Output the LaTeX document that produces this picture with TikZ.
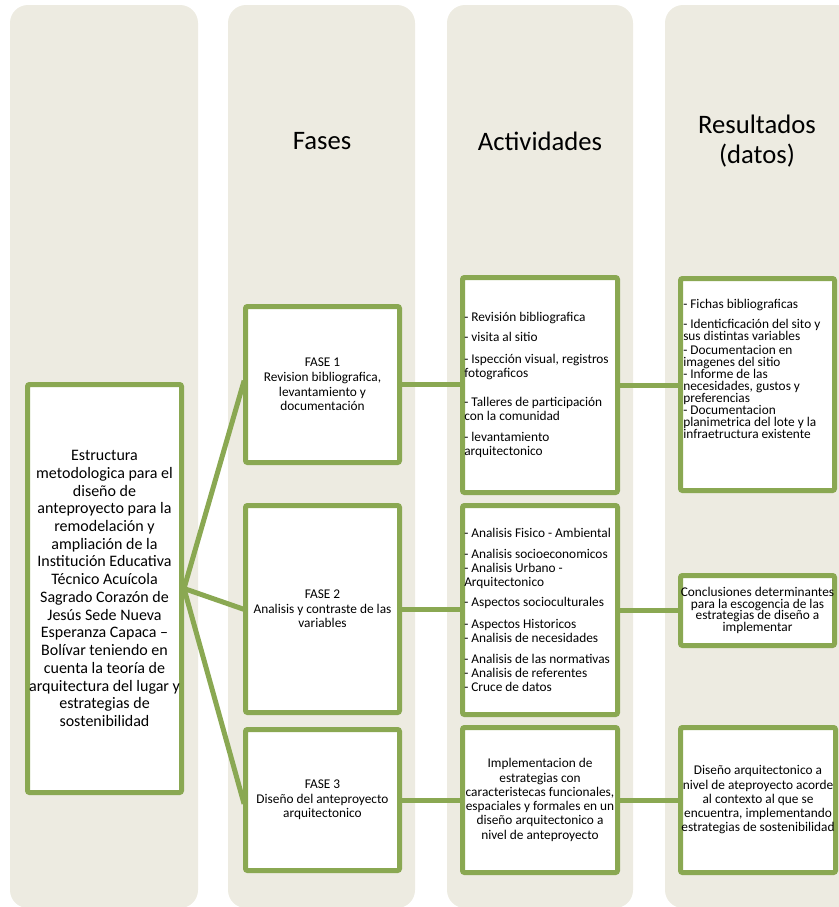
\documentclass[tikz,border=0pt]{standalone}
\usepackage{fontspec}
\setmainfont{Carlito}
\definecolor{colbg}{RGB}{237,235,225}
\definecolor{grn}{RGB}{138,168,82}
\pgfdeclarelayer{back}
\pgfdeclarelayer{mid}
\pgfsetlayers{back,mid,main}
\begin{document}
\lineskiplimit=-20pt
\lineskip=0pt
\begin{tikzpicture}[x=0.75pt,y=-0.75pt,
  colbox/.style={fill=colbg, rounded corners=13.5pt},
  box/.style={draw=grn, line width=3.75pt, fill=white, rounded corners=1.5pt, inner sep=0pt, align=center},
  conn/.style={draw=grn, line width=3.75pt, shorten <=-3pt, shorten >=-3pt},
  head/.style={font=\fontsize{20}{22.5}\selectfont, align=center, inner sep=0pt},
  fase/.style={font=\fontsize{10}{11}\selectfont},
  ctxt/.style={font=\fontsize{10}{10.7}\selectfont},
  lst/.style={font=\fontsize{10}{10.5}\selectfont, align=left, inner sep=0pt, anchor=west},
  rlst/.style={font=\fontsize{10}{9}\selectfont, align=left, inner sep=0pt, anchor=north west}
]
\useasboundingbox (0,0) rectangle (839,907);
\clip (0,0) rectangle (839,907);

% background columns
\begin{pgfonlayer}{back}
\fill[colbox] (10,5) rectangle (198,908);
\fill[colbox] (228,5) rectangle (415,908);
\fill[colbox] (447,5) rectangle (633,908);
\fill[colbox] (665,5) rectangle (880,908);
\end{pgfonlayer}

% headers
\node[head] (hf) at (322,141) {Fases};
\node[head] (ha) at (540,141) {Actividades};
\node[head] (hr) at (757,141) {Resultados\\(datos)};

% main box
\node[box, minimum width=115.5pt, minimum height=306pt,
  font=\fontsize{12}{13.3}\selectfont] (L) at (104.5,588.5)
  {Estructura\\metodologica para el\\diseño de\\anteproyecto para la\\remodelación y\\ampliación de la\\Institución Educativa\\Técnico Acuícola\\Sagrado Corazón de\\Jesús Sede Nueva\\Esperanza Capaca –\\Bolívar teniendo en\\cuenta la teoría de\\arquitectura del lugar y\\estrategias de\\sostenibilidad};

% phases
\node[box, fase, minimum width=115.5pt, minimum height=117pt] (F1) at (322.5,384.5)
  {FASE 1\\Revision bibliografica,\\levantamiento y\\documentación};
\node[box, fase, minimum width=115.5pt, minimum height=155.25pt] (F2) at (322.5,609)
  {FASE 2\\Analisis y contraste de las\\variables};
\node[box, fase, minimum width=115.5pt, minimum height=105.75pt] (F3) at (322.5,800)
  {FASE 3\\Diseño del anteproyecto\\arquitectonico};

% activities
\node[box, minimum width=116.25pt, minimum height=161.25pt] (A1) at (540,385) {};
\node[lst] (A1t) at (464,385)
  {- Revisión bibliografica\\[4.5pt]
   - visita al sitio\\[5.7pt]
   - Ispección visual, registros\\
   fotograficos\\[11.5pt]
   - Talleres de participación\\
   con la comunidad\\[5pt]
   - levantamiento\\
   arquitectonico};
\node[box, minimum width=116.25pt, minimum height=156.75pt] (A2) at (540,610) {};
\node[lst] (A2t) at (464,610)
  {- Analisis Fisico - Ambiental\\[5.25pt]
   - Analisis socioeconomicos\\
   - Analisis Urbano -\\
   Arquitectonico\\[4.5pt]
   - Aspectos socioculturales\\[5.7pt]
   - Aspectos Historicos\\
   - Analisis de necesidades\\[5.25pt]
   - Analisis de las normativas\\
   - Analisis de referentes\\
   - Cruce de datos};
\node[box, ctxt, minimum width=116.25pt, minimum height=108.75pt] (A3) at (540,800)
  {Implementacion de\\estrategias con\\caracteristecas funcionales,\\espaciales y formales en un\\diseño arquitectonico a\\nivel de anteproyecto};

% results
\node[box, minimum width=115.5pt, minimum height=159pt] (R1) at (757.5,384.5) {};
\node[rlst] (R1t) at (683,299)
  {- Fichas bibliograficas\\[5.8pt]
   - Identicficación del sito y\\
   sus distintas variables\\[1.8pt]
   - Documentacion en\\
   imagenes del sitio\\
   - Informe de las\\
   necesidades, gustos y\\
   preferencias\\
   - Documentacion\\
   planimetrica del lote y la\\
   infraetructura existente};
\node[box, font=\fontsize{10}{8.8}\selectfont, minimum width=115.5pt, minimum height=52.5pt] (R2) at (757.5,610.5)
  {Conclusiones determinantes\\para la escogencia de las\\estrategias de diseño a\\implementar};
\node[box, ctxt, minimum width=116.25pt, minimum height=108.75pt] (R3) at (758,800)
  {Diseño arquitectonico a\\nivel de ateproyecto acorde\\al contexto al que se\\encuentra, implementando\\estrategias de sostenibilidad};

% connectors
\begin{pgfonlayer}{mid}
\draw[conn] (L.east) -- (F1.west);
\draw[conn] (L.east) -- (F2.west);
\draw[conn] (L.east) -- (F3.west);
\draw[conn] (F1.east) -- (F1.east -| A1.west);
\draw[conn] (F2.east) -- (F2.east -| A2.west);
\draw[conn] (F3.east) -- (F3.east -| A3.west);
\draw[conn] (A1.east) -- (A1.east -| R1.west);
\draw[conn] (A2.east) -- (A2.east -| R2.west);
\draw[conn] (A3.east) -- (A3.east -| R3.west);
\end{pgfonlayer}
\end{tikzpicture}
\end{document}
